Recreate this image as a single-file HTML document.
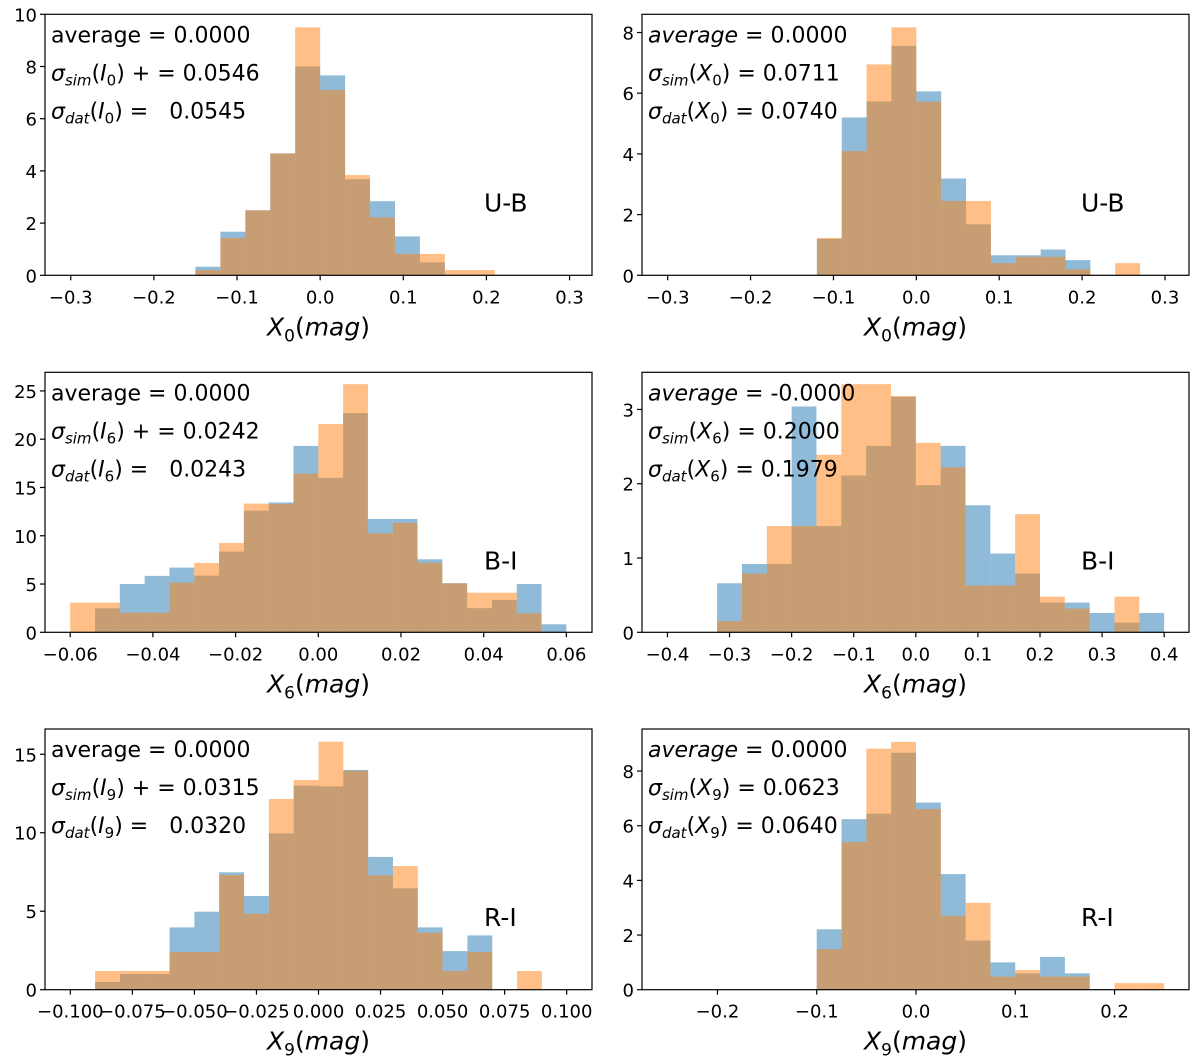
<!DOCTYPE html>
<html><head><meta charset="utf-8"><style>
html,body{margin:0;padding:0;background:#fff;}
svg{display:block;font-family:"DejaVu Sans","Liberation Sans",sans-serif;}
</style></head><body>
<svg id="fig" width="1200" height="1064" viewBox="0 0 1200 1064" xmlns="http://www.w3.org/2000/svg"></svg>
<script>
// ---- data arrays ----
const p1Blue=[0.33,1.67,2.49,4.67,8.0,7.66,3.68,2.84,1.49,0.5,0,0];
const p1Orange=[0.2,1.43,2.49,4.67,9.5,7.1,3.84,2.22,0.82,0.82,0.2,0.2];
const p2Blue=[1.2,5.2,5.73,7.56,6.06,3.19,1.68,0.66,0.66,0.85,0.5,0,0];
const p2Orange=[1.23,4.09,6.95,8.17,5.72,2.45,2.45,0.4,0.61,0.61,0.2,0,0.4];
const p3Blue=[0,2.49,5.0,5.84,6.7,5.87,8.36,12.6,13.45,19.3,16.0,22.7,11.74,11.74,7.56,5.08,2.5,3.35,5.0,0.83];
const p3Orange=[3.07,3.07,2.04,2.04,5.14,7.18,9.25,13.33,13.3,16.44,21.58,25.7,10.26,11.33,7.2,5.08,4.1,4.1,1.97,0];
const p4Blue=[0.66,0.92,0.92,3.04,1.43,2.11,2.51,3.17,1.98,2.51,1.71,1.06,0.79,0.4,0.4,0.26,0.13,0.26];
const p4Orange=[0.15,0.79,1.43,1.43,2.39,3.34,3.34,3.18,2.55,2.22,0.63,0.63,1.59,0.48,0.32,0,0.48,0];
const p5Blue=[0.49,1.0,1.0,3.97,4.97,7.48,5.97,9.96,13.0,12.96,14.0,8.46,6.46,3.97,2.46,3.46,0,0];
const p5Orange=[1.19,1.19,1.19,2.4,2.4,7.31,4.84,12.15,13.36,15.8,13.95,7.29,7.88,3.63,1.19,2.4,0,1.19];
const p6Blue=[2.21,6.24,6.44,8.67,6.85,4.23,1.8,1.0,0.6,1.2,0.6,0,0,0];
const p6Orange=[1.48,5.4,8.82,9.07,6.61,2.7,3.18,0.48,0.72,0.48,0.48,0,0.24,0.24];
const p1Ticks=[-0.3,-0.2,-0.1,0,0.1,0.2,0.3];
const p1TickLabels=["−0.3","−0.2","−0.1","0.0","0.1","0.2","0.3"];
const p3Ticks=[-0.06,-0.04,-0.02,0,0.02,0.04,0.06];
const p3TickLabels=["−0.06","−0.04","−0.02","0.00","0.02","0.04","0.06"];
const p4Ticks=[-0.4,-0.3,-0.2,-0.1,0,0.1,0.2,0.3,0.4];
const p4TickLabels=["−0.4","−0.3","−0.2","−0.1","0.0","0.1","0.2","0.3","0.4"];
const p5Ticks=[-0.1,-0.075,-0.05,-0.025,0,0.025,0.05,0.075,0.1];
const p5TickLabels=["−0.100","−0.075","−0.050","−0.025","0.000","0.025","0.050","0.075","0.100"];
const p6Ticks=[-0.2,-0.1,0,0.1,0.2];
const p6TickLabels=["−0.2","−0.1","0.0","0.1","0.2"];

const NS="http://www.w3.org/2000/svg";
const svg=document.getElementById('fig');
function mk(tag,attrs,parent){const e=document.createElementNS(NS,tag);for(const k in attrs)e.setAttribute(k,attrs[k]);(parent||svg).appendChild(e);return e;}

const panels=[
 {name:'ub-left',L:45,R:592,T:14.3,B:275.3,xlim:[-0.331,0.327],ylim:[0,10],start:-0.15,w:0.03,blue:p1Blue,orange:p1Orange,xt:p1Ticks,xtl:p1TickLabels,yt:[0,2,4,6,8,10],sub:'0',sym:'I',plus:true,vals:['0.0000','0.0546','0.0545'],lab:'U-B',italicAvg:false},
 {name:'ub-right',L:642,R:1189,T:14.3,B:275.3,xlim:[-0.331,0.329],ylim:[0,8.6],start:-0.12,w:0.03,blue:p2Blue,orange:p2Orange,xt:p1Ticks,xtl:p1TickLabels,yt:[0,2,4,6,8],sub:'0',sym:'X',plus:false,vals:['0.0000','0.0711','0.0740'],lab:'U-B',italicAvg:true},
 {name:'bi-left',L:45,R:592,T:372.3,B:632.3,xlim:[-0.0661,0.0662],ylim:[0,26.93],start:-0.06,w:0.006,blue:p3Blue,orange:p3Orange,xt:p3Ticks,xtl:p3TickLabels,yt:[0,5,10,15,20,25],sub:'6',sym:'I',plus:true,vals:['0.0000','0.0242','0.0243'],lab:'B-I',italicAvg:false},
 {name:'bi-right',L:642,R:1189,T:372.3,B:632.3,xlim:[-0.441,0.44],ylim:[0,3.5],start:-0.32,w:0.04,blue:p4Blue,orange:p4Orange,xt:p4Ticks,xtl:p4TickLabels,yt:[0,1,2,3],sub:'6',sym:'X',plus:false,vals:['-0.0000','0.2000','0.1979'],lab:'B-I',italicAvg:true},
 {name:'ri-left',L:45,R:592,T:729,B:989.7,xlim:[-0.1102,0.1102],ylim:[0,16.61],start:-0.09,w:0.01,blue:p5Blue,orange:p5Orange,xt:p5Ticks,xtl:p5TickLabels,yt:[0,5,10,15],sub:'9',sym:'I',plus:true,vals:['0.0000','0.0315','0.0320'],lab:'R-I',italicAvg:false},
 {name:'ri-right',L:642,R:1189,T:729,B:989.7,xlim:[-0.276,0.275],ylim:[0,9.54],start:-0.1,w:0.025,blue:p6Blue,orange:p6Orange,xt:p6Ticks,xtl:p6TickLabels,yt:[0,2,4,6,8],sub:'9',sym:'X',plus:false,vals:['0.0000','0.0623','0.0640'],lab:'R-I',italicAvg:true}
];

panels.forEach(p=>{
 const g=mk('g',{});
 
 
 const sx=v=>p.L+(v-p.xlim[0])/(p.xlim[1]-p.xlim[0])*(p.R-p.L);
 const sy=v=>p.B-(v-p.ylim[0])/(p.ylim[1]-p.ylim[0])*(p.B-p.T);
 [['blue',p.blue,'rgba(31,119,180,0.5)'],['orange',p.orange,'rgba(255,127,14,0.5)']].forEach(([nm,arr,col])=>{
  arr.forEach((v,i)=>{
   if(v<=0)return;
   const x0=sx(p.start+i*p.w),x1=sx(p.start+(i+1)*p.w);
   const r=mk('rect',{x:x0,y:sy(v),width:x1-x0,height:sy(0)-sy(v),fill:col},g);
   
   
  });
 });
 const frame=mk('rect',{x:p.L,y:p.T,width:p.R-p.L,height:p.B-p.T,fill:'none',stroke:'#000','stroke-width':1.2},g);
 
 
 p.xt.forEach((t,i)=>{
  const x=sx(t);
  mk('line',{x1:x,x2:x,y1:p.B,y2:p.B+5,stroke:'#000','stroke-width':1.2},g);
  const tx=mk('text',{x:x,y:p.B+28,'font-size':18,'text-anchor':'middle',fill:'#000'},g);
  tx.textContent=p.xtl[i];
  
  
 });
 p.yt.forEach(t=>{
  const y=sy(t);
  mk('line',{x1:p.L-5,x2:p.L,y1:y,y2:y,stroke:'#000','stroke-width':1.2},g);
  const tx=mk('text',{x:p.L-8,y:y+7,'font-size':18,'text-anchor':'end',fill:'#000'},g);
  tx.textContent=String(t);
  
  
 });
 const cx=(p.L+p.R)/2;
 const at=mk('text',{x:cx,y:p.B+60,'font-size':25,'text-anchor':'middle',fill:'#000'},g);
 
 
 at.innerHTML='<tspan font-style="italic">X</tspan><tspan font-size="17" dy="6">'+p.sub+'</tspan><tspan dy="-6">(</tspan><tspan font-style="italic">mag</tspan><tspan>)</tspan>';
 const ax=p.L+6, b0=p.T+28;
 const a1=mk('text',{x:ax,y:b0,'font-size':22,fill:'#000'},g);
 
 
 a1.innerHTML=(p.italicAvg?'<tspan font-style="italic">average</tspan>':'<tspan>average</tspan>')+'<tspan> = '+p.vals[0]+'</tspan>';
 const a2=mk('text',{x:ax,y:b0+38,'font-size':22,fill:'#000'},g);
 
 
 a2.innerHTML='<tspan font-style="italic">σ</tspan><tspan font-style="italic" font-size="15" dy="5">sim</tspan><tspan dy="-5">(</tspan><tspan font-style="italic">'+p.sym+'</tspan><tspan font-size="15" dy="5">'+p.sub+'</tspan><tspan dy="-5">)'+(p.plus?' + ':' ')+'= '+p.vals[1]+'</tspan>';
 const a3=mk('text',{x:ax,y:b0+76,'font-size':22,fill:'#000'},g);
 
 
 a3.innerHTML='<tspan font-style="italic">σ</tspan><tspan font-style="italic" font-size="15" dy="5">dat</tspan><tspan dy="-5">(</tspan><tspan font-style="italic">'+p.sym+'</tspan><tspan font-size="15" dy="5">'+p.sub+'</tspan><tspan dy="-5">) = '+(p.plus?'\u00a0\u00a0':'')+p.vals[2]+'</tspan>';
 const lb=mk('text',{x:p.L+439,y:p.T+197,'font-size':25,fill:'#000'},g);
 
 
 lb.textContent=p.lab;
});
</script>
</body></html>
